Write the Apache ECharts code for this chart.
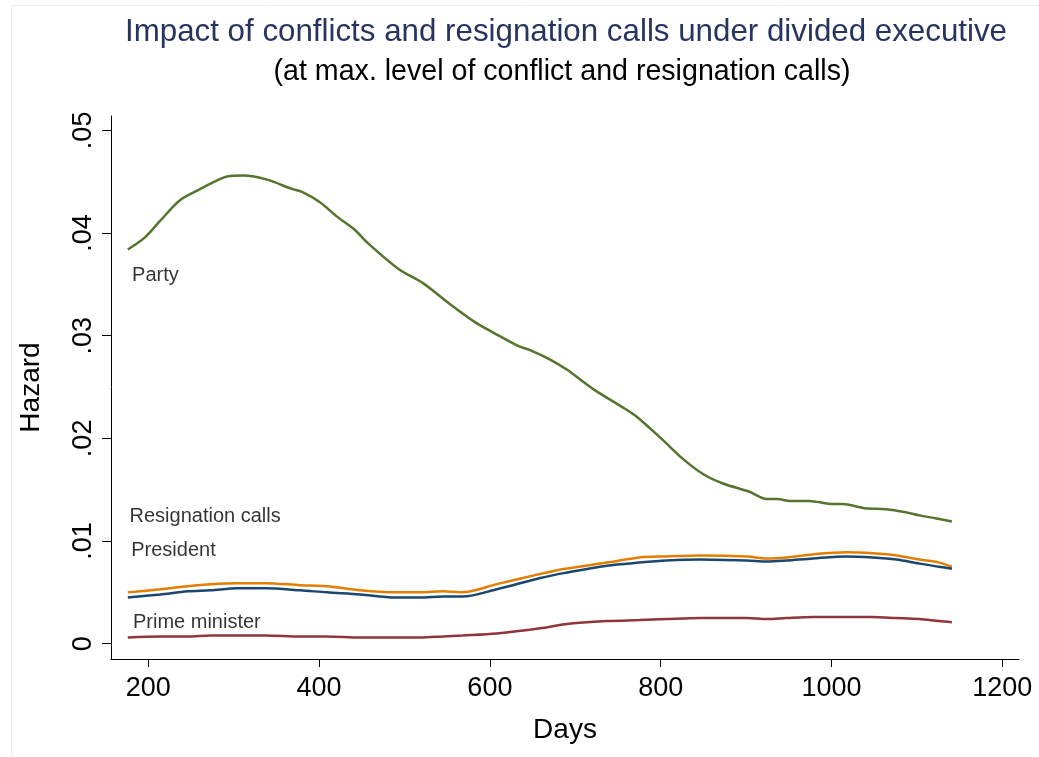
<!DOCTYPE html>
<html>
<head>
<meta charset="utf-8">
<script src="https://cdn.jsdelivr.net/npm/echarts@6/dist/echarts.min.js"></script>
<style>
  html, body { margin: 0; padding: 0; background: #fff; }
  #chart { width: 1039px; height: 757px; }
</style>
</head>
<body>
<div id="chart"></div>
<script>
// Party hazard curve
const partyDays = [176, 195, 214, 237, 261, 280, 292, 312, 339, 368, 380, 401, 421, 442, 456, 493, 522, 553, 583, 604,
  633, 647, 670, 690, 721, 756, 772, 803, 826, 850, 873, 904, 924, 937, 951, 974, 1002, 1013, 1039, 1064, 1087, 1103, 1123, 1141]
const partyVals = [0.0384, 0.0395, 0.0412, 0.0432, 0.0443, 0.0451, 0.0455, 0.0456, 0.0452, 0.0443, 0.0440, 0.0430, 0.0416, 0.0403, 0.0391, 0.0365, 0.0351, 0.0331, 0.0313, 0.0303,
  0.0290, 0.0286, 0.0277, 0.0267, 0.0248, 0.0230, 0.0221, 0.0198, 0.0180, 0.0165, 0.0156, 0.0148, 0.0141, 0.0141, 0.0139, 0.0139, 0.0136, 0.0136, 0.0132, 0.0131, 0.0128, 0.0125, 0.0122, 0.0119]

// the three lower curves share the same days
const lowDays = [176, 214, 246, 273, 304, 337, 378, 409, 448, 489, 518, 545, 568, 608, 659, 688, 737, 775, 807, 846,
  901, 924, 947, 978, 1018, 1048, 1076, 1103, 1126, 1141]
const resignVals = [0.0050, 0.0053, 0.0056, 0.0058, 0.0059, 0.0059, 0.0057, 0.0056, 0.0052, 0.0050, 0.0050, 0.0051, 0.0050, 0.0058, 0.0068, 0.0073, 0.0079, 0.0084, 0.0085, 0.0086,
  0.0085, 0.0083, 0.0084, 0.0087, 0.0089, 0.0088, 0.0086, 0.0082, 0.0079, 0.0075]
const presidentVals = [0.0045, 0.0048, 0.0051, 0.0052, 0.0054, 0.0054, 0.0052, 0.0050, 0.0048, 0.0045, 0.0045, 0.0046, 0.0046, 0.0053, 0.0064, 0.0069, 0.0076, 0.0079, 0.0081, 0.0082,
  0.0081, 0.0080, 0.0081, 0.0083, 0.0085, 0.0084, 0.0082, 0.0078, 0.0075, 0.0073]
const primeVals = [0.0006, 0.0007, 0.0007, 0.0008, 0.0008, 0.0008, 0.0007, 0.0007, 0.0006, 0.0006, 0.0006, 0.0007, 0.0008, 0.0010, 0.0015, 0.0019, 0.0022, 0.0023, 0.0024, 0.0025,
  0.0025, 0.0024, 0.0025, 0.0026, 0.0026, 0.0026, 0.0025, 0.0024, 0.0022, 0.0021]

// text labels next to the curves, [day, hazard, text]
const curveLabels = [
  [181, 0.0359, 'Party'],
  [178, 0.01235, 'Resignation calls'],
  [180, 0.0091, 'President'],
  [182, 0.00205, 'Prime minister']
]

const xTicks = [200, 400, 600, 800, 1000, 1200]
const yTicks = [0, 0.01, 0.02, 0.03, 0.04, 0.05]

const zip = (xs, ys) => xs.map((x, i) => [x, ys[i]])

const chart = echarts.init(document.getElementById('chart'))

const lineSeries = (name, days, vals, color) => ({
  name,
  type: 'line',
  data: zip(days, vals),
  showSymbol: false,
  smooth: 0.3,
  lineStyle: { color, width: 2.5 },
  z: 3
})

chart.setOption({
  animation: false,
  backgroundColor: '#fff',
  textStyle: { fontFamily: 'Liberation Sans, Arial, sans-serif' },
  title: [
    {
      text: 'Impact of conflicts and resignation calls under divided executive',
      left: 561,
      top: 12,
      textAlign: 'center',
      textStyle: { color: '#27345f', fontSize: 31.3, fontWeight: 'normal' }
    },
    {
      text: '(at max. level of conflict and resignation calls)',
      left: 557,
      top: 53,
      textAlign: 'center',
      textStyle: { color: '#000', fontSize: 28.6, fontWeight: 'normal' }
    }
  ],
  graphic: [{
    type: 'rect',
    shape: { x: 11.5, y: 5.5, width: 1030, height: 760 },
    style: { fill: 'none', stroke: '#e9eef3', lineWidth: 1 },
    silent: true
  }],
  grid: { left: 111, right: 20, top: 116, bottom: 98, containLabel: false },
  xAxis: {
    type: 'value',
    min: 156.3,
    max: 1219.6,
    name: 'Days',
    nameLocation: 'middle',
    nameGap: 57,
    nameTextStyle: { color: '#000', fontSize: 28 },
    axisLine: { show: true, onZero: false, lineStyle: { color: '#000', width: 1 } },
    axisTick: { show: true, length: 8, customValues: xTicks, lineStyle: { color: '#000' } },
    axisLabel: {
      customValues: xTicks,
      margin: 16,
      color: '#000',
      fontSize: 27,
      formatter: v => String(v)
    },
    splitLine: { show: false }
  },
  yAxis: {
    type: 'value',
    min: -0.00149,
    max: 0.0514,
    name: 'Hazard',
    nameLocation: 'middle',
    nameRotate: 90,
    nameGap: 66,
    nameTextStyle: { color: '#000', fontSize: 28 },
    axisLine: { show: true, onZero: false, lineStyle: { color: '#000', width: 1 } },
    axisTick: { show: true, length: 9, customValues: yTicks, lineStyle: { color: '#000' } },
    axisLabel: {
      customValues: yTicks,
      rotate: 90,
      margin: 14,
      color: '#000',
      fontSize: 27,
      formatter: v => v === 0 ? '0' : v.toFixed(2).replace(/^0/, '')
    },
    splitLine: { show: false }
  },
  series: [
    lineSeries('Party', partyDays, partyVals, '#55752f'),
    lineSeries('Resignation calls', lowDays, resignVals, '#e37e00'),
    lineSeries('President', lowDays, presidentVals, '#1a476f'),
    lineSeries('Prime minister', lowDays, primeVals, '#90353b'),
    {
      type: 'scatter',
      data: curveLabels,
      symbolSize: 0,
      silent: true,
      label: {
        show: true,
        position: 'right',
        distance: 0,
        color: '#000',
        fontSize: 20,
        formatter: p => p.data[2]
      }
    }
  ]
})

window.addEventListener('resize', () => chart.resize())
</script>
</body>
</html>
